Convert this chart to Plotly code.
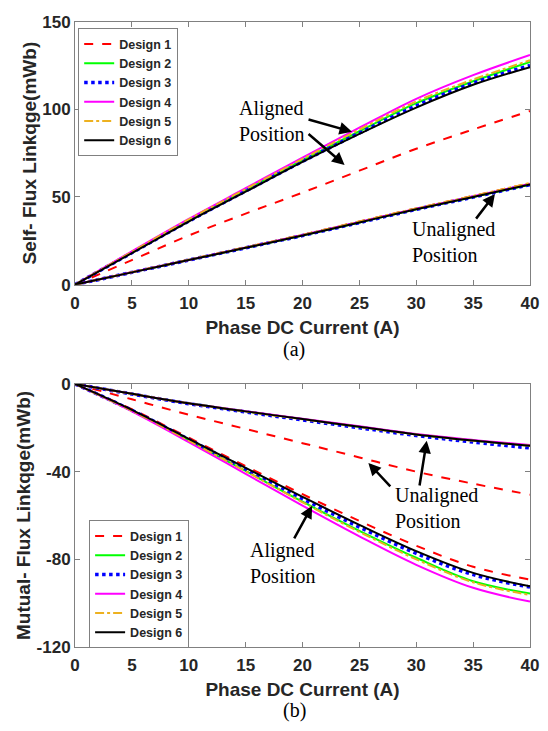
import plotly.graph_objects as go

current = [0, 5, 10, 15, 20, 25, 30, 35, 40]
designs = ["Design 1", "Design 2", "Design 3", "Design 4", "Design 5", "Design 6"]
self_ticks = [0, 50, 100, 150]
mutual_ticks = [0, -40, -80, -120]
mutual_ticklabels = ["0", "-40", "-80", "-120"]

# (a) Self flux linkage (mWb)
self_aligned = {
    "Design 1": [0, 14, 28, 40.5, 52.5, 65, 77.5, 88.5, 99],
    "Design 2": [0, 18.5, 37, 54, 71, 87.5, 103.5, 116, 127],
    "Design 3": [0, 18.2, 36.2, 53.4, 70.3, 86.5, 102, 115, 125],
    "Design 4": [0, 19, 37.5, 55, 72.5, 89.5, 106, 119.5, 131],
    "Design 5": [0, 18.7, 37.2, 54.5, 71.7, 88.5, 104.5, 117, 128],
    "Design 6": [0, 18, 36, 53, 70, 86, 101, 114, 124],
}
self_unaligned = {
    "Design 1": [0, 7.1, 14.2, 21.3, 28.4, 36, 43.5, 50.6, 57.8],
    "Design 2": [0, 7, 14, 21, 28, 35.5, 43, 50, 57],
    "Design 3": [0, 7, 14, 21, 28, 35.4, 42.9, 49.9, 57],
    "Design 4": [0, 7.1, 14.1, 21.2, 28.3, 35.8, 43.3, 50.4, 57.5],
    "Design 5": [0, 7.1, 14.2, 21.3, 28.4, 36, 43.5, 50.6, 58],
    "Design 6": [0, 7, 14, 21, 28, 35.5, 43, 50, 57.2],
}
# (b) Mutual flux linkage (mWb)
mutual_aligned = {
    "Design 1": [0, -11.5, -24.5, -37.5, -50.3, -62.5, -73.8, -83.4, -89.3],
    "Design 2": [0, -12.2, -25.8, -39.7, -53.7, -67, -79.3, -90, -95.6],
    "Design 3": [0, -12, -25.3, -38.8, -52.3, -65.3, -77.3, -87, -92.7],
    "Design 4": [0, -12.5, -26.5, -41, -55.5, -69.5, -82.5, -93, -99.3],
    "Design 5": [0, -12.2, -25.8, -39.8, -54, -67.5, -80, -90.5, -96.3],
    "Design 6": [0, -11.8, -25, -38.3, -51.5, -64.3, -76.3, -86.2, -92.3],
}
mutual_unaligned = {
    "Design 1": [0, -7, -14, -20.5, -27, -33.5, -40, -45.5, -50.5],
    "Design 2": [0, -4.5, -8.8, -12.5, -16, -19.5, -23, -25.8, -28.2],
    "Design 3": [0, -4.6, -9, -12.8, -16.4, -20, -23.5, -26.5, -29.2],
    "Design 4": [0, -4.5, -8.8, -12.4, -15.9, -19.3, -22.8, -25.5, -27.8],
    "Design 5": [0, -4.5, -8.8, -12.6, -16.1, -19.6, -23.1, -25.9, -28.2],
    "Design 6": [0, -4.5, -8.8, -12.5, -16, -19.5, -23, -25.8, -28.2],
}

styles = {
    "Design 1": dict(color="#FF0000", dash="dash", width=2),
    "Design 2": dict(color="#00FF00", dash="solid", width=2),
    "Design 3": dict(color="#0000FF", dash="dot", width=3.5),
    "Design 4": dict(color="#FF00FF", dash="solid", width=2),
    "Design 5": dict(color="#EDB120", dash="dashdot", width=2),
    "Design 6": dict(color="#000000", dash="solid", width=2),
}

fig = go.Figure()
for d in designs:
    for i, (vals, xa, ya, leg) in enumerate([
        (self_aligned[d], "x", "y", "legend"),
        (self_unaligned[d], "x", "y", "legend"),
        (mutual_aligned[d], "x2", "y2", "legend2"),
        (mutual_unaligned[d], "x2", "y2", "legend2"),
    ]):
        fig.add_trace(go.Scatter(
            x=current, y=vals, mode="lines", name=d,
            line=dict(shape="spline", **styles[d]),
            xaxis=xa, yaxis=ya, legend=leg,
            showlegend=(i in (0, 2)),
        ))

tickfont = dict(family="Liberation Sans", size=17, color="#262626", weight="bold")
titlefont = dict(family="Liberation Sans", size=19, color="#262626", weight="bold")
axis_common = dict(
    showline=True, linecolor="#808080", linewidth=1, mirror="ticks",
    ticks="inside", ticklen=5, tickcolor="#808080", showgrid=False,
    zeroline=False, tickfont=tickfont,
)

H = 731
legfont = dict(family="Liberation Sans", size=12.5, color="#262626", weight="bold")
fig.update_layout(
    width=548, height=731,
    margin=dict(l=75, r=18, t=0, b=0),
    paper_bgcolor="white", plot_bgcolor="white",
    xaxis=dict(domain=[0, 1], anchor="y", range=[0, 40], dtick=5, ticklabelstandoff=3,
               title=dict(text="Phase DC Current (A)", font=titlefont, standoff=8),
               **axis_common),
    yaxis=dict(domain=[1 - 283 / H, 1 - 13 / H], anchor="x", range=[0, 150],
               tickvals=self_ticks,
               title=dict(text="Self- Flux Linkqge(mWb)", font=titlefont, standoff=0),
               **axis_common),
    xaxis2=dict(domain=[0, 1], anchor="y2", range=[0, 40], dtick=5, ticklabelstandoff=3,
                title=dict(text="Phase DC Current (A)", font=titlefont, standoff=8),
                **axis_common),
    yaxis2=dict(domain=[1 - 655 / H, 1 - 385 / H], anchor="x2", range=[-120, 0],
                tickvals=mutual_ticks, ticktext=mutual_ticklabels,
                title=dict(text="Mutual- Flux Linkqge(mWb)", font=titlefont, standoff=0),
                **axis_common),
    legend=dict(x=0.007, y=1 - 20 / H, xanchor="left", yanchor="top",
                bgcolor="white", bordercolor="#808080", borderwidth=1,
                font=legfont, itemwidth=30, tracegroupgap=0),
    legend2=dict(x=0.031, y=1 - 525 / H, xanchor="left", yanchor="top",
                 bgcolor="white", bordercolor="#808080", borderwidth=1,
                 font=legfont, itemwidth=30, tracegroupgap=0),
    showlegend=True,
)

serif = dict(family="Liberation Serif", size=20, color="black")
ann = []
# text labels
ann.append(dict(x=14.24, y=93.3, xref="x", yref="y", text="Aligned<br>Position",
                showarrow=False, xanchor="left", yanchor="middle", align="left", font=serif))
ann.append(dict(x=29.45, y=24.4, xref="x", yref="y", text="Unaligned<br>Position",
                showarrow=False, xanchor="left", yanchor="middle", align="left", font=serif))
ann.append(dict(x=27.98, y=-56.4, xref="x2", yref="y2", text="Unaligned<br>Position",
                showarrow=False, xanchor="left", yanchor="middle", align="left", font=serif))
ann.append(dict(x=15.2, y=-81.8, xref="x2", yref="y2", text="Aligned<br>Position",
                showarrow=False, xanchor="left", yanchor="middle", align="left", font=serif))
# arrows (tail -> head)
arrows = [
    ("x", "y", (20.4, 94.4), (24.35, 87.2)),
    ("x", "y", (20.4, 86.7), (23.7, 68.3)),
    ("x", "y", (35.16, 36.8), (36.92, 51.7)),
    ("x2", "y2", (27.84, -47.4), (25.79, -36)),
    ("x2", "y2", (30.27, -47), (30.92, -25.9)),
    ("x2", "y2", (19.2, -71.1), (20.85, -55.6)),
]
for xr, yr, tail, head in arrows:
    ann.append(dict(x=head[0], y=head[1], ax=tail[0], ay=tail[1], xref=xr, yref=yr,
                    axref=xr, ayref=yr, text="", showarrow=True, arrowhead=2,
                    arrowsize=1, arrowwidth=2.5, arrowcolor="black"))
# panel labels
ann.append(dict(x=(294 - 75) / 455, y=1 - 350 / H, xref="paper", yref="paper", text="(a)",
                showarrow=False, xanchor="center", yanchor="middle", font=serif))
ann.append(dict(x=(294 - 75) / 455, y=1 - 720 / H, xref="paper", yref="paper", text="(b)",
                showarrow=False, xanchor="center", yanchor="middle", font=serif))
fig.update_layout(annotations=ann)

fig.write_html("out.html")
